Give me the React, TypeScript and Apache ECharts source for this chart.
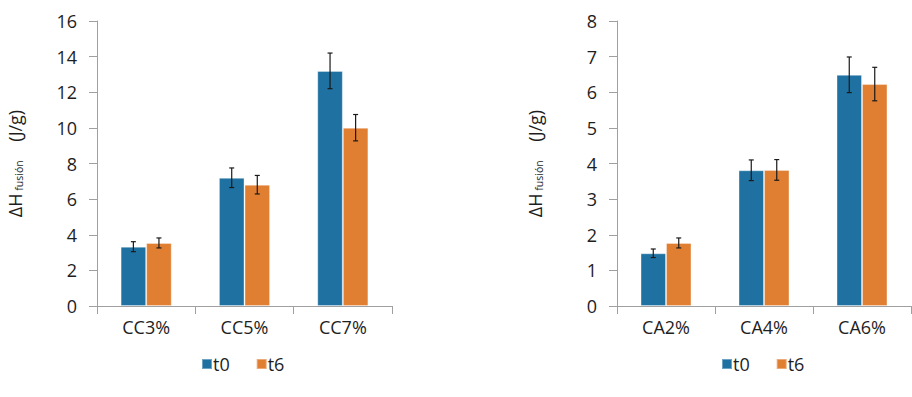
import React, { useEffect, useRef } from "react";
import * as echarts from "echarts";

const catsCC = ["CC3%", "CC5%", "CC7%"];
const ccT0 = [3.33, 7.2, 13.2];
const ccT0Err = [0.28, 0.55, 1.0];
const ccT6 = [3.54, 6.81, 10.01];
const ccT6Err = [0.28, 0.52, 0.74];

const catsCA = ["CA2%", "CA4%", "CA6%"];
const caT0 = [1.48, 3.81, 6.49];
const caT0Err = [0.12, 0.29, 0.5];
const caT6 = [1.77, 3.82, 6.23];
const caT6Err = [0.14, 0.29, 0.47];

const BLUE = "#1f71a1";
const ORANGE = "#e07e31";
const FONT = "Open Sans";
const TXT = "#1e1e1e";
const FS = 18;
const BAR_FRAC = 0.26;

function errSeries(vals: number[], errs: number[], idx: number, side: number): any {
  return {
    type: "custom",
    xAxisIndex: idx,
    yAxisIndex: idx,
    z: 10,
    silent: true,
    data: vals.map((v, i) => [i, v, errs[i]]),
    renderItem: (params: any, api: any) => {
      const i = api.value(0);
      const v = api.value(1);
      const e = api.value(2);
      const band = api.size([1, 0])[0];
      const off = side * band * BAR_FRAC * 0.5;
      const hi = api.coord([i, v + e]);
      const lo = api.coord([i, v - e]);
      const x = hi[0] + off;
      const cap = 2.5;
      const style = { stroke: "#1a1a1a", lineWidth: 1.2 };
      return {
        type: "group",
        children: [
          { type: "line", shape: { x1: x, y1: hi[1], x2: x, y2: lo[1] }, style },
          { type: "line", shape: { x1: x - cap, y1: hi[1], x2: x + cap, y2: hi[1] }, style },
          { type: "line", shape: { x1: x - cap, y1: lo[1], x2: x + cap, y2: lo[1] }, style },
        ],
      };
    },
  };
}

function barSeries(name: string, vals: number[], idx: number, color: string): any {
  return {
    name,
    type: "bar",
    xAxisIndex: idx,
    yAxisIndex: idx,
    data: vals,
    barWidth: BAR_FRAC * 100 + "%",
    barGap: "0%",
    itemStyle: { color, borderColor: "rgba(255,255,255,0.35)", borderWidth: 1 },
  };
}

const yName = {
  name: "{a|ΔH}{b| fusión}{a|    (J/g)}",
  nameLocation: "middle",
  nameGap: 73,
  nameRotate: 90,
  nameTextStyle: {
    rich: {
      a: { fontFamily: FONT, fontSize: FS, color: TXT },
      b: { fontFamily: FONT, fontSize: 10.5, color: TXT, padding: [7, 0, 0, 0] },
    },
  },
};

function yAxis(idx: number, max: number, interval: number): any {
  return {
    type: "value",
    gridIndex: idx,
    min: 0,
    max,
    interval,
    ...yName,
    axisLine: { show: true, lineStyle: { color: "#a0a0a0", width: 1 } },
    axisTick: { show: true, length: 8, lineStyle: { color: "#a0a0a0" } },
    splitLine: { show: false },
    axisLabel: { fontFamily: FONT, fontSize: FS, color: TXT, margin: 20 },
  };
}

function xAxis(idx: number, cats: string[]): any {
  return {
    type: "category",
    gridIndex: idx,
    data: cats,
    axisLine: { show: true, lineStyle: { color: "#a0a0a0", width: 1 } },
    axisTick: { show: true, length: 8, lineStyle: { color: "#a0a0a0" } },
    axisLabel: { fontFamily: FONT, fontSize: FS, color: TXT, margin: 12 },
  };
}

function legend(left: number): any {
  return {
    data: ["t0", "t6"],
    left,
    top: 355,
    padding: 0,
    itemWidth: 10,
    itemHeight: 10,
    itemGap: 26,
    icon: "rect",
    textStyle: { fontFamily: FONT, fontSize: FS, color: TXT, padding: [0, 0, 0, -4] },
  };
}

export default function App() {
  const ref = useRef<HTMLDivElement>(null);
  useEffect(() => {
    if (!ref.current) return;
    const chart = echarts.init(ref.current, null, { renderer: "svg" });
    chart.setOption({
      animation: false,
      backgroundColor: "#ffffff",
      grid: [
        { left: 97, right: 520, top: 21, bottom: 91 },
        { left: 617, right: 1, top: 21, bottom: 91 },
      ],
      legend: [legend(201), legend(721)],
      xAxis: [xAxis(0, catsCC), xAxis(1, catsCA)],
      yAxis: [yAxis(0, 16, 2), yAxis(1, 8, 1)],
      series: [
        barSeries("t0", ccT0, 0, BLUE),
        barSeries("t6", ccT6, 0, ORANGE),
        barSeries("t0", caT0, 1, BLUE),
        barSeries("t6", caT6, 1, ORANGE),
        errSeries(ccT0, ccT0Err, 0, -1),
        errSeries(ccT6, ccT6Err, 0, 1),
        errSeries(caT0, caT0Err, 1, -1),
        errSeries(caT6, caT6Err, 1, 1),
      ],
    });
    return () => chart.dispose();
  }, []);
  return (
    <div
      ref={ref}
      style={{ position: "fixed", left: 0, top: 0, width: 912, height: 397 }}
    />
  );
}
